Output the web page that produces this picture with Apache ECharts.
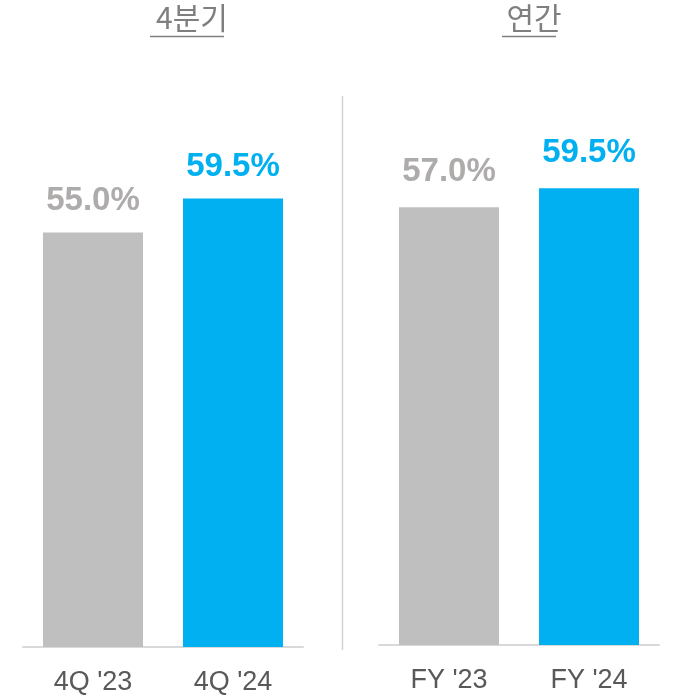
<!DOCTYPE html>
<html>
<head>
<meta charset="utf-8">
<script src="https://cdn.jsdelivr.net/npm/echarts@6/dist/echarts.min.js"></script>
<style>
  html, body { margin: 0; padding: 0; background: #fff; }
  #chart { width: 684px; height: 697px; }
</style>
</head>
<body>
<div id="chart"></div>
<script>
// 값
const panelTitles = ['4분기', '연간'];
const quarterCategories = ["4Q '23", "4Q '24"];
const quarterValues = [55.0, 59.5];
const yearCategories = ["FY '23", "FY '24"];
const yearValues = [57.0, 59.5];

const barColors = ['#bfbfbf', '#00b0f0'];
const labelColors = ['#aeabab', '#00b0f0'];

const chart = echarts.init(document.getElementById('chart'));

// 막대마다 색을 다르게
function toItems(values, distance) {
  return values.map((v, i) => ({
    value: v,
    itemStyle: { color: barColors[i] },
    label: { color: labelColors[i], distance: distance },
  }));
}

const valueLabel = {
  show: true,
  position: 'top',
  fontFamily: 'Liberation Sans',
  fontWeight: 'bold',
  fontSize: 33,
  formatter: (p) => p.value.toFixed(1) + '%',
};

const categoryAxis = (data, idx) => ({
  type: 'category',
  gridIndex: idx,
  data: data,
  axisTick: { show: false },
  axisLine: { lineStyle: { color: '#d9d9d9', width: 2 } },
  axisLabel: {
    color: '#595959',
    fontFamily: 'Liberation Sans',
    fontSize: 27,
    margin: 22,
  },
});

const titleStyle = { fontFamily: 'Noto Sans CJK KR', fontWeight: 'normal', fontSize: 30, color: '#7f7f7f' };

const option = {
  animation: false,
  title: [
    { text: panelTitles[0], left: 187, top: -2, textAlign: 'center', textStyle: titleStyle },
    { text: panelTitles[1], left: 529, top: -2, textAlign: 'center', textStyle: titleStyle },
  ],
  graphic: [
    // 제목 밑줄
    { type: 'line', shape: { x1: 150, y1: 36.5, x2: 224, y2: 36.5 }, style: { stroke: '#7f7f7f', lineWidth: 1.5 } },
    { type: 'line', shape: { x1: 502, y1: 36.5, x2: 556, y2: 36.5 }, style: { stroke: '#7f7f7f', lineWidth: 1.5 } },
    // 가운데 구분선
    { type: 'line', shape: { x1: 342.5, y1: 96, x2: 342.5, y2: 650 }, style: { stroke: '#d4d4d4', lineWidth: 1.5 } },
  ],
  grid: [
    { left: 23, right: 381, top: 96, bottom: 50 },
    { left: 379, right: 25, top: 96, bottom: 52 },
  ],
  xAxis: [categoryAxis(quarterCategories, 0), categoryAxis(yearCategories, 1)],
  yAxis: [
    { type: 'value', gridIndex: 0, min: 0, max: 73.1, show: false },
    { type: 'value', gridIndex: 1, min: 0, max: 71.5, show: false },
  ],
  series: [
    {
      name: panelTitles[0],
      type: 'bar',
      xAxisIndex: 0,
      yAxisIndex: 0,
      barWidth: 100,
      data: toItems(quarterValues, 15),
      label: valueLabel,
    },
    {
      name: panelTitles[1],
      type: 'bar',
      xAxisIndex: 1,
      yAxisIndex: 1,
      barWidth: 100,
      data: toItems(yearValues, 19),
      label: valueLabel,
    },
  ],
};

chart.setOption(option);
</script>
</body>
</html>
